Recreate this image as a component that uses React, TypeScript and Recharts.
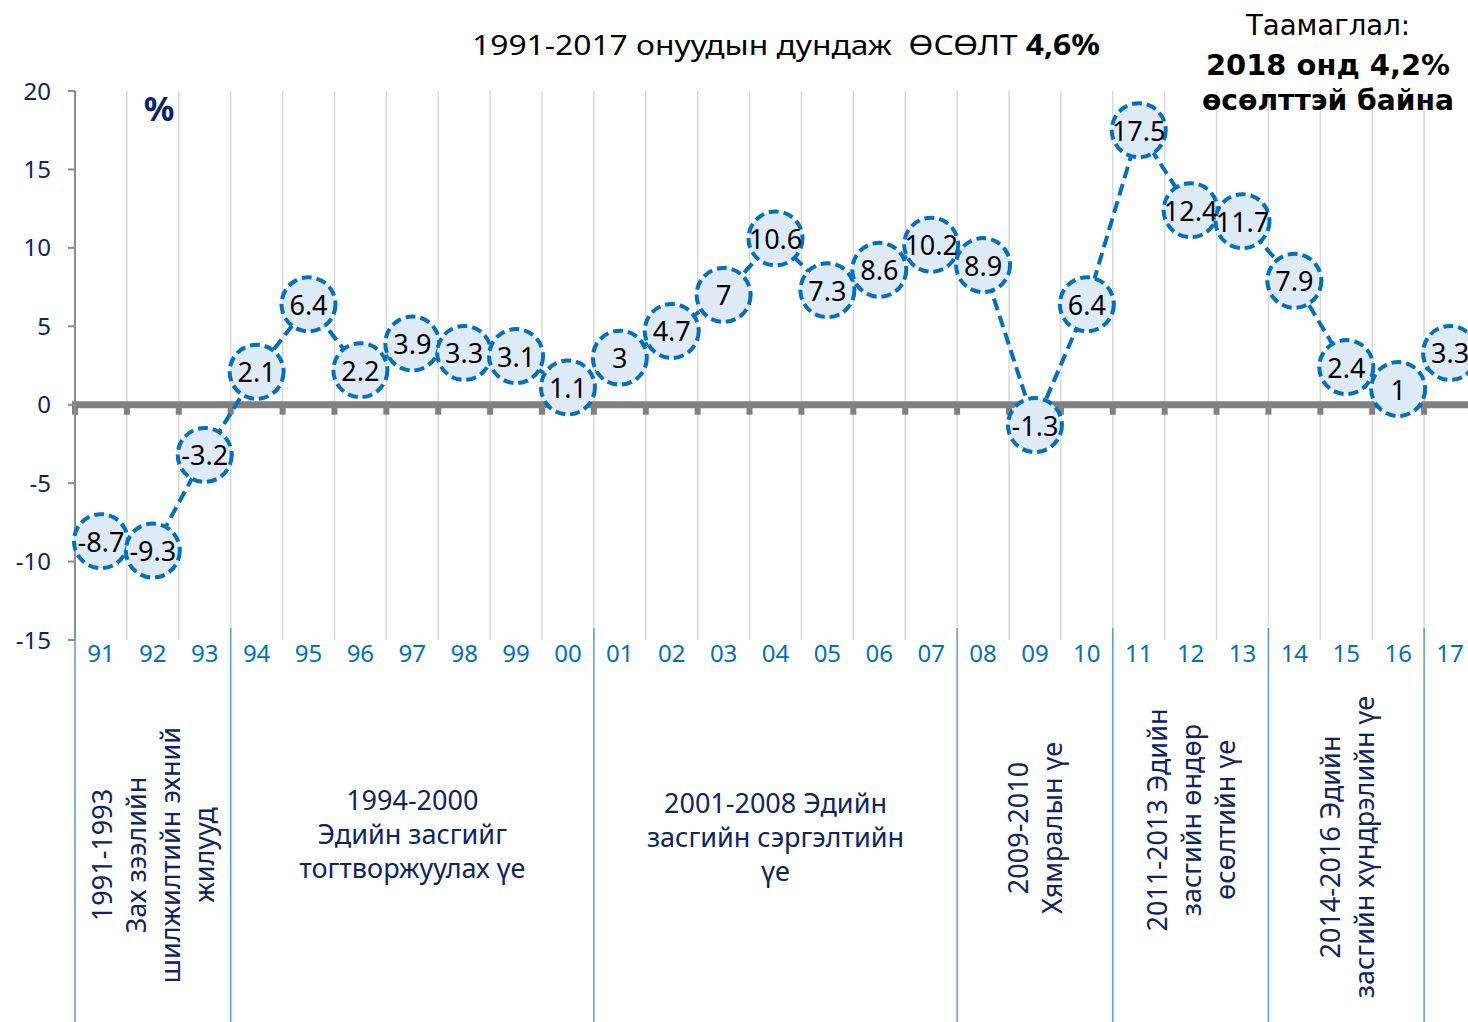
import React from 'react';
import { LineChart, Line, XAxis, YAxis, CartesianGrid, ReferenceLine, LabelList } from 'recharts';

// GDP growth, %, by year (two-digit labels)
const years = ['91', '92', '93', '94', '95', '96', '97', '98', '99', '00', '01', '02', '03', '04',
  '05', '06', '07', '08', '09', '10', '11', '12', '13', '14', '15', '16', '17'];
const growth = [-8.7, -9.3, -3.2, 2.1, 6.4, 2.2, 3.9, 3.3, 3.1, 1.1, 3, 4.7, 7, 10.6, 7.3, 8.6,
  10.2, 8.9, -1.3, 6.4, 17.5, 12.4, 11.7, 7.9, 2.4, 1, 3.3];
const yTicks = [-15, -10, -5, 0, 5, 10, 15, 20];

// periods: index range of years covered + caption lines
const periodSpans = [[0, 3], [3, 10], [10, 17], [17, 20], [20, 23], [23, 26]];
const periodText = [
  ['1991-1993', 'Зах зээлийн', 'шилжилтийн эхний', 'жилууд'],
  ['1994-2000', 'Эдийн засгийг', 'тогтворжуулах үе'],
  ['2001-2008 Эдийн', 'засгийн сэргэлтийн', 'үе'],
  ['2009-2010', 'Хямралын үе'],
  ['2011-2013 Эдийн', 'засгийн өндөр', 'өсөлтийн үе'],
  ['2014-2016 Эдийн', 'засгийн хүндрэлийн үе'],
];
// caption placement (vertical centre, rotated or not)
const periodLayout = [
  { cy: 855, rotate: true },
  { cy: 833, rotate: false },
  { cy: 836, rotate: false },
  { cy: 828, rotate: true },
  { cy: 820, rotate: true },
  { cy: 847, rotate: true },
];

const data = years.map((year, i) => ({ year, value: growth[i] }));

const W = 1500;
const H = 1022;
const MARGIN = { top: 91, right: 24, left: 0, bottom: 342 };
const Y_AXIS_W = 75;
const X_AXIS_H = 40;
const PLOT_LEFT = MARGIN.left + Y_AXIS_W;
const PLOT_W = W - MARGIN.right - PLOT_LEFT;
const BAND = PLOT_W / years.length;
const PLOT_BOTTOM = H - MARGIN.bottom - X_AXIS_H;

const NAVY = '#0B2566';
const BLUE = '#0070C0';

const renderDot = (p: any) => (
  <circle
    key={`dot-${p.index}`}
    cx={p.cx}
    cy={p.cy}
    r={27}
    fill="#DEEAF6"
    stroke={BLUE}
    strokeWidth={4}
    strokeDasharray="10 5"
  />
);

const renderLabel = (p: any) => {
  const x = p.x ?? p.viewBox?.x;
  const y = p.y ?? p.viewBox?.y;
  return (
    <text key={`lbl-${p.index}`} x={x} y={y} textAnchor="middle" dominantBaseline="central" fontSize={27} fill="#000">
      {p.value}
    </text>
  );
};

const ZeroAxis = (p: any) => {
  const { x1, y1, x2 } = p;
  const band = (x2 - x1) / years.length;
  return (
    <g>
      <line x1={x1 - 3} y1={y1} x2={x2} y2={y1} stroke="#808080" strokeWidth={7} />
      {Array.from({ length: years.length + 1 }, (_, i) => (
        <rect key={i} x={x1 + i * band - 3} y={y1} width={6} height={10} fill="#808080" />
      ))}
    </g>
  );
};

function Overlay() {
  const dividers = Array.from(new Set(periodSpans.flat()));
  const note = { fontFamily: "'DejaVu Sans', sans-serif" };
  return (
    <svg width={1468} height={H} style={{ position: 'absolute', left: 0, top: 0, pointerEvents: 'none' }}>
      <text x={786} y={55} textAnchor="middle" fontSize={28} fill="#000" textLength={628}
        lengthAdjust="spacingAndGlyphs" style={{ whiteSpace: 'pre' }}>
        1991-2017 онуудын дундаж  ӨСӨЛТ <tspan fontWeight="bold">4,6%</tspan>
      </text>
      <text x={1328} y={35} textAnchor="middle" fontSize={28} fill="#000" textLength={164}
        lengthAdjust="spacingAndGlyphs" style={note}>Таамаглал:</text>
      <text x={1328} y={75} textAnchor="middle" fontSize={29} fontWeight="bold" fill="#000"
        textLength={244} lengthAdjust="spacingAndGlyphs" style={note}>2018 онд 4,2%</text>
      <text x={1328} y={110} textAnchor="middle" fontSize={29} fontWeight="bold" fill="#000"
        textLength={252} lengthAdjust="spacingAndGlyphs" style={note}>өсөлттэй байна</text>
      <text x={159} y={121} textAnchor="middle" fontSize={34} fontWeight="bold" fill={NAVY}>%</text>

      {dividers.map((d) => (
        <line key={d} x1={PLOT_LEFT + d * BAND} x2={PLOT_LEFT + d * BAND} y1={PLOT_BOTTOM - 12} y2={H}
          stroke="#5B9BD5" strokeWidth={1.5} />
      ))}

      {periodText.map((lines, k) => {
        const [a, b] = periodSpans[k];
        const cx = PLOT_LEFT + ((a + b) / 2) * BAND;
        const { cy, rotate } = periodLayout[k];
        const lh = 34;
        return (
          <g key={k} transform={rotate ? `rotate(-90 ${cx} ${cy})` : undefined}>
            {lines.map((s, i) => (
              <text key={i} x={cx} y={cy + (i - (lines.length - 1) / 2) * lh} textAnchor="middle"
                dominantBaseline="central" fontSize={27} fill={NAVY}>
                {s}
              </text>
            ))}
          </g>
        );
      })}
    </svg>
  );
}

export default function App() {
  return (
    <div style={{ position: 'absolute', left: 0, top: 0, width: 1468, height: H, overflow: 'hidden',
      background: '#fff', fontFamily: "'Noto Sans', sans-serif" }}>
      <LineChart width={W} height={H} data={data} margin={MARGIN}>
        <CartesianGrid
          horizontal={false}
          stroke="#D9D9D9"
          strokeWidth={1.5}
          verticalCoordinatesGenerator={() => years.map((_, i) => PLOT_LEFT + (i + 1) * BAND)}
        />
        <XAxis dataKey="year" scale="band" interval={0} axisLine={false} tickLine={false}
          tickSize={0} tickMargin={5} height={X_AXIS_H} tick={{ fill: BLUE, fontSize: 24 }} />
        <YAxis domain={[-15, 20]} ticks={yTicks} width={Y_AXIS_W} allowDataOverflow
          axisLine={{ stroke: '#8C8C8C', strokeWidth: 2 }} tickLine={{ stroke: '#8C8C8C', strokeWidth: 2 }}
          tickSize={7} tickMargin={17} tick={{ fill: NAVY, fontSize: 24 }} />
        <ReferenceLine y={0} shape={ZeroAxis} />
        <Line dataKey="value" stroke={BLUE} strokeWidth={4} strokeDasharray="12 6" dot={renderDot}
          activeDot={false} isAnimationActive={false}>
          <LabelList dataKey="value" content={renderLabel} />
        </Line>
      </LineChart>
      <Overlay />
    </div>
  );
}
